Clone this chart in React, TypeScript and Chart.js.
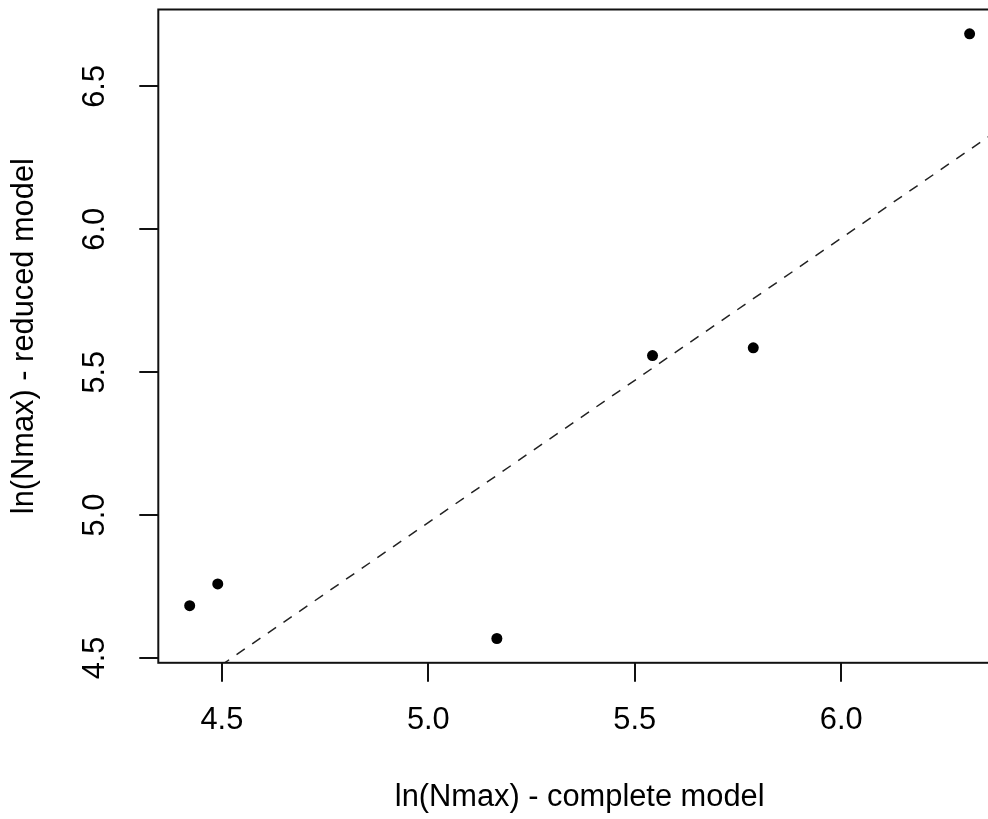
import React, { useEffect, useRef } from "react";
import { Chart, registerables } from "chart.js";

Chart.register(...registerables);

// Data
const completeModel = [4.422, 4.49, 5.166, 5.543, 5.787, 6.311];
const reducedModel = [4.683, 4.759, 4.568, 5.558, 5.585, 6.684];
const fitLineX = [4.346, 6.387];
const fitLineY = [4.323, 6.354];
const xTicks = [4.5, 5.0, 5.5, 6.0];
const yTicks = [4.5, 5.0, 5.5, 6.0, 6.5];
const xRange = [4.346, 6.387];
const yRange = [4.483, 6.769];
const xTitle = "ln(Nmax) - complete model";
const yTitle = "ln(Nmax) - reduced model";

const FONT = '"Liberation Sans", Arial, sans-serif';
const FONT_SIZE = 30.8;

const boxPlugin = {
  id: "rbox",
  afterDraw(chart: any) {
    const { ctx, chartArea: a } = chart;
    ctx.save();
    ctx.strokeStyle = "#111";
    ctx.lineWidth = 2;
    ctx.strokeRect(a.left, a.top, a.right - a.left, a.bottom - a.top);
    ctx.restore();
  },
};

const yLabelPlugin = {
  id: "ylabels",
  afterDraw(chart: any) {
    const { ctx } = chart;
    const s = chart.scales.y;
    ctx.save();
    ctx.font = `${FONT_SIZE}px ${FONT}`;
    ctx.fillStyle = "#000";
    ctx.textAlign = "center";
    ctx.textBaseline = "middle";
    for (const t of s.ticks) {
      const p = s.getPixelForValue(t.value);
      ctx.save();
      ctx.translate(96, p);
      ctx.rotate(-Math.PI / 2);
      ctx.fillText(Number(t.value).toFixed(1), 0, 0);
      ctx.restore();
    }
    ctx.restore();
  },
};

export default function App() {
  const ref = useRef<HTMLCanvasElement>(null);

  useEffect(() => {
    const font = { family: FONT, size: FONT_SIZE };
    const chart = new Chart(ref.current as HTMLCanvasElement, {
      type: "scatter",
      data: {
        datasets: [
          {
            type: "scatter",
            data: completeModel.map((x, i) => ({ x, y: reducedModel[i] })),
            pointRadius: 5.5,
            pointHoverRadius: 5.5,
            backgroundColor: "#000",
            borderColor: "#000",
            borderWidth: 0,
            order: 1,
          } as any,
          {
            type: "line",
            data: fitLineX.map((x, i) => ({ x, y: fitLineY[i] })),
            borderColor: "#222",
            borderWidth: 1.5,
            borderDash: [10, 9],
            pointRadius: 0,
            showLine: true,
            fill: false,
            order: 2,
          } as any,
        ],
      },
      options: {
        responsive: false,
        animation: false,
        devicePixelRatio: 1,
        layout: { padding: { top: 9.5, right: 9, left: 0, bottom: 0 } },
        plugins: {
          legend: { display: false },
          tooltip: { enabled: false },
        },
        scales: {
          x: {
            type: "linear",
            position: "bottom",
            min: xRange[0],
            max: xRange[1],
            afterBuildTicks: (s: any) => {
              s.ticks = xTicks.map((v) => ({ value: v }));
            },
            afterFit: (s: any) => {
              s.height = 156.2;
            },
            grid: {
              display: true,
              drawOnChartArea: false,
              drawTicks: true,
              tickLength: 19,
              color: "#111",
              lineWidth: 2,
            },
            border: { display: false },
            ticks: {
              font,
              color: "#000",
              padding: 20.5,
              maxRotation: 0,
              autoSkip: false,
              callback: (v: any) => Number(v).toFixed(1),
            },
            title: {
              display: true,
              text: xTitle,
              font,
              color: "#000",
              padding: { top: 0, bottom: 3 },
            },
          },
          y: {
            type: "linear",
            position: "left",
            min: yRange[0],
            max: yRange[1],
            afterBuildTicks: (s: any) => {
              s.ticks = yTicks.map((v) => ({ value: v }));
            },
            afterFit: (s: any) => {
              s.width = 158.3;
            },
            grid: {
              display: true,
              drawOnChartArea: false,
              drawTicks: true,
              tickLength: 19,
              color: "#111",
              lineWidth: 2,
            },
            border: { display: false },
            ticks: { display: false },
            title: {
              display: true,
              text: yTitle,
              font,
              color: "#000",
              padding: { top: 6.5, bottom: 0 },
            },
          },
        },
      } as any,
      plugins: [boxPlugin, yLabelPlugin],
    });
    return () => chart.destroy();
  }, []);

  return (
    <div
      style={{
        position: "fixed",
        left: 0,
        top: 0,
        width: 988,
        height: 819,
        overflow: "hidden",
        background: "#fff",
      }}
    >
      <canvas
        ref={ref}
        width={1010}
        height={819}
        style={{ display: "block", width: 1010, height: 819 }}
      />
    </div>
  );
}
